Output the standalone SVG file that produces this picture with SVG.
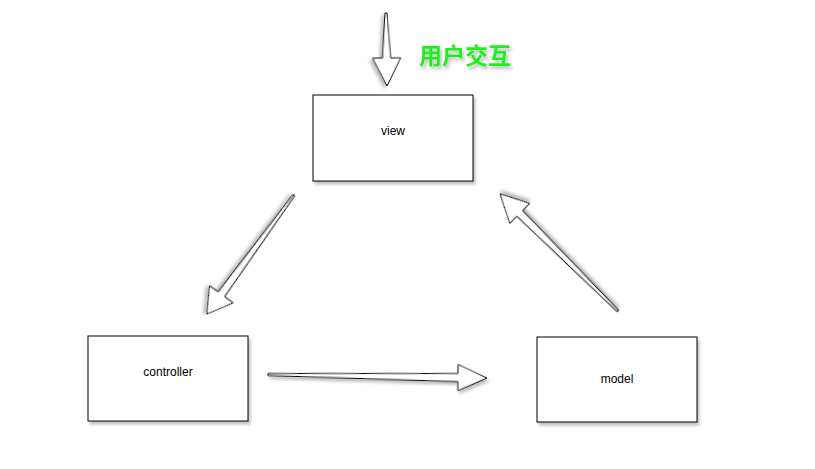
<svg xmlns="http://www.w3.org/2000/svg" width="815" height="469" viewBox="0 0 815 469">
<defs>
<filter id="sh" x="-20%" y="-20%" width="140%" height="140%">
<feDropShadow dx="2" dy="3" stdDeviation="1.5" flood-color="#000" flood-opacity="0.25"/>
</filter>
</defs>
<style>
.node rect{fill:#fff;stroke:#000;stroke-width:1;filter:url(#sh)}
.node text{font-family:"Liberation Sans",Helvetica,Arial,sans-serif;font-size:12px;fill:#000;text-anchor:middle}
.arrow{fill:#fff;stroke:#000;stroke-width:1;stroke-linejoin:miter;filter:url(#sh)}
.label{font-family:"Noto Sans CJK SC","Liberation Sans",sans-serif;font-size:23px;font-weight:bold;fill:#1ef01e;text-anchor:middle;filter:url(#sh)}
</style>
<rect width="815" height="469" fill="#fff"/>
<g id="connectors">
<polygon class="arrow" transform="translate(386,13) rotate(89.2)" points="0,-1 45,-4 45,-14 73,0 45,14 45,4 0,1"/>
<polygon class="arrow" transform="translate(294,195) rotate(126.2)" points="0,-1 123,-4 123,-14.5 147.4,0 123,14.5 123,4 0,1"/>
<polygon class="arrow" transform="translate(618,311) rotate(-135.2)" points="0,-1 138.6,-4 138.6,-14 166.2,0 138.6,14 138.6,4 0,1"/>
<polygon class="arrow" transform="translate(268,374.5) rotate(0.92)" points="0,-1 190,-4 190,-13 219,0 190,13 190,4 0,1"/>
</g>
<text id="label-interaction" class="label" x="465" y="64">用户交互</text>
<g id="view" class="node">
<rect x="313" y="95" width="160" height="86"/>
<text x="393" y="135">view</text>
</g>
<g id="controller" class="node">
<rect x="88" y="336" width="160" height="85"/>
<text x="168" y="376">controller</text>
</g>
<g id="model" class="node">
<rect x="537" y="337" width="160" height="85"/>
<text x="617" y="383">model</text>
</g>
</svg>
